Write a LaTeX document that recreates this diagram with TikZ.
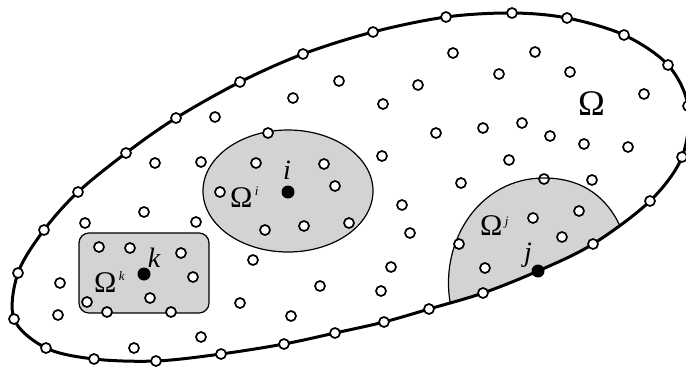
\documentclass[tikz,border=0pt]{standalone}
\usepackage{fontspec}
\setmainfont{Liberation Serif}
\definecolor{regiongray}{RGB}{210,211,213}
\begin{document}
\begin{tikzpicture}[x=1pt,y=-1pt,
  hole/.style={circle,draw=black,fill=white,line width=1.7pt,minimum size=10pt,inner sep=0pt},
  srcdot/.style={circle,fill=black,minimum size=13pt,inner sep=0pt},
  region/.style={fill=regiongray,draw=black,line width=1.2pt},
  bnd/.style={line width=3pt},
  biglbl/.style={font=\fontsize{36}{36}\selectfont,inner sep=0pt,anchor=base west},
  sublbl/.style={font=\fontsize{30}{30}\selectfont,inner sep=0pt,anchor=base west},
  idx/.style={font=\fontsize{28}{28}\selectfont\itshape,inner sep=0pt,anchor=base},
  supidx/.style={font=\fontsize{13}{13}\selectfont\itshape,inner sep=0pt,anchor=base west},
]
\useasboundingbox (0,0) rectangle (686,367);
% boundary coordinates
\foreach [count=\n] \px/\py in {446/17,512/13,567/18,624/35,668/65,688/106,682/157,650/201,593/244,538/271,483/293,429/309,384/322,335/333,284/344,221/354,156/361,94/359,46/348,14/319,18/273,44/230,78/192,126/153,176/118,240/82,303/54,373/32}
  \coordinate (b\n) at (\px,\py);
% region Omega^i
\draw[region] (288,191) ellipse [x radius=85, y radius=61];
% region Omega^k
\draw[region,rounded corners=10pt] (79,233) rectangle (209,313);
% region Omega^j
\begin{scope}
\clip plot[smooth cycle,tension=0.55] coordinates {(b1) (b2) (b3) (b4) (b5) (b6) (b7) (b8) (b9) (b10) (b11) (b12) (b13) (b14) (b15) (b16) (b17) (b18) (b19) (b20) (b21) (b22) (b23) (b24) (b25) (b26) (b27) (b28)};
\fill[regiongray] (450,302) .. controls (440,240) and (480,178) .. (544,178) .. controls (585,178) and (608,200) .. (620,226) -- (660,260) -- (450,340) -- cycle;
\end{scope}
\node[hole] (jtop) at (544,179) {};
\draw[line width=1.2pt] (450,302) .. controls (440,240) and (480,178) .. (544,178) .. controls (585,178) and (608,200) .. (620,226);
% outer boundary
\draw[bnd] plot[smooth cycle,tension=0.55] coordinates {(b1) (b2) (b3) (b4) (b5) (b6) (b7) (b8) (b9) (b10) (b11) (b12) (b13) (b14) (b15) (b16) (b17) (b18) (b19) (b20) (b21) (b22) (b23) (b24) (b25) (b26) (b27) (b28)};
% boundary holes
\foreach \n in {1,...,9,11,12,...,28}
  \node[hole] (bh\n) at (b\n) {};
% interior holes
\foreach [count=\n] \px/\py in {215/117,155/163,201/162,144/212,85/223,196/222,60/283,58/315,134/348,201/337,240/303,
  293/98,339/81,383/104,418/85,453/53,436/133,382/156,461/183,402/205,410/233,253/260,391/267,320/286,381/291,291/316,
  535/52,499/74,570/72,644/94,483/128,522/123,550/136,584/144,628/147,509/160,592/180,
  268/133,256/163,324/164,335/186,220/192,265/230,304/226,349/223,
  533/218,579/211,562/237,459/244,485/268,
  99/247,130/248,181/253,193/277,150/298,87/302,107/312,171/312}
  \node[hole] (h\n) at (\px,\py) {};
% source points
\node[srcdot] (di) at (288,192) {};
\node[srcdot] (dk) at (144,274) {};
\node[srcdot] (dj) at (b10) {};
% labels
\node[idx] (li) at (287,179) {i};
\node[idx] (lk) at (154,267) {k};
\node[idx] (lj) at (528,261) {j};
\node[biglbl] (lOm) at (578,115) {Ω};
\node[sublbl] (lOi) at (230,207) {Ω};
\node[supidx] (si) at (lOi.base east) [yshift=12pt,xshift=2pt] {i};
\node[sublbl] (lOk) at (94,292) {Ω};
\node[supidx] (sk) at (lOk.base east) [yshift=12pt,xshift=2pt] {k};
\node[sublbl] (lOj) at (480,235) {Ω};
\node[supidx] (sj) at (lOj.base east) [yshift=10pt,xshift=2pt] {j};
\end{tikzpicture}
\end{document}
